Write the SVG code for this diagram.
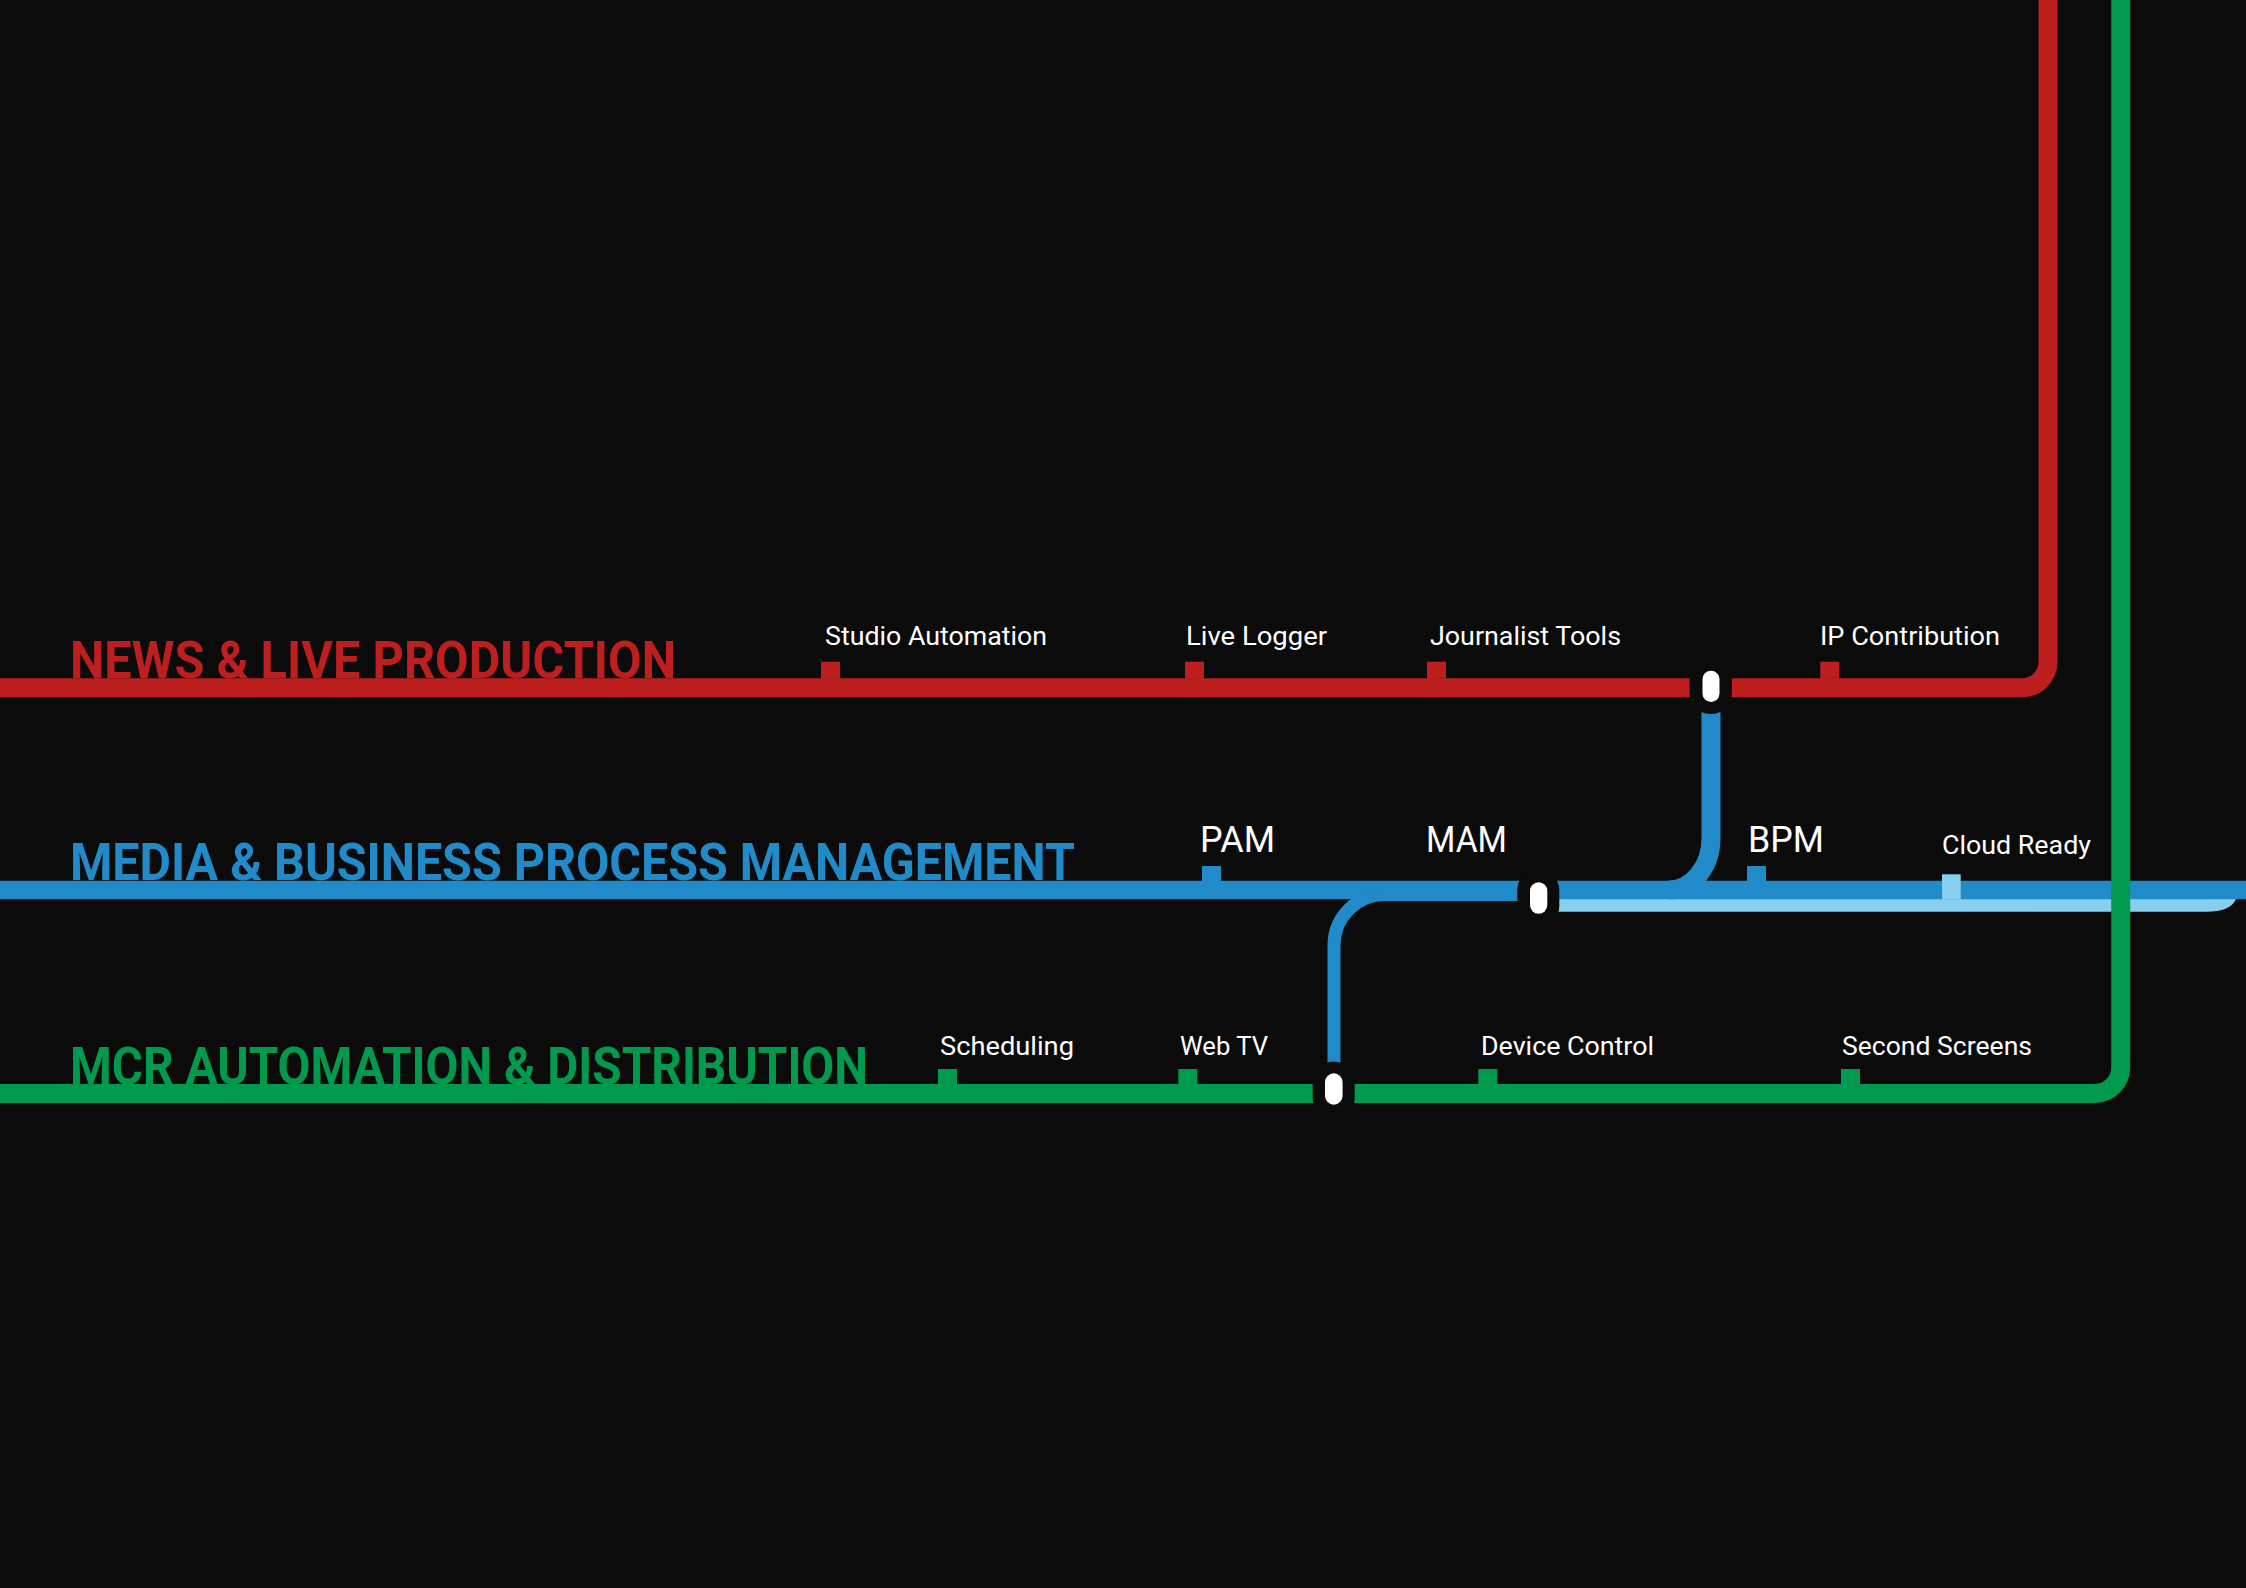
<svg xmlns="http://www.w3.org/2000/svg" width="2246" height="1588" viewBox="0 0 2246 1588">
<style>
.ln{fill:none;stroke-linejoin:round}
.r{stroke:#bd1e1e}.b{stroke:#218bc9}.g{stroke:#00994d}
.fr{fill:#bd1e1e}.fb{fill:#218bc9}.fg{fill:#00994d}.fl{fill:#88cfef}
text{font-family:"Roboto","Liberation Sans",sans-serif}
.t{font-size:51px;font-weight:700}
.s{font-size:26px;font-weight:450;fill:#fff}
.m{font-size:36px;font-weight:450;fill:#fff}
.mask{fill:#0b0b0b}.pill{fill:#fff}
</style>
<rect width="2246" height="1588" fill="#0b0b0b"/>
<g id="connectors">
<path class="fl" d="M1540,899 H2236 C2232,908 2222,911.7 2207,911.7 H1540 Z"/>
<path id="line-media" class="ln b" stroke-width="18.7" d="M0,890 H2246"/>
<path id="branch-news" class="ln b" stroke-width="19" d="M1711,700 V838 A42,52 0 0 1 1669,890"/>
<path id="branch-mcr" class="ln b" stroke-width="13" d="M1334,1075 V945 A51,50.5 0 0 1 1385,894.5 H1530"/>
<path id="line-news" class="ln r" stroke-width="19" d="M0,687.8 H2022 A26,26 0 0 0 2048,661.8 V0"/>
<path id="line-mcr" class="ln g" stroke-width="19" d="M0,1093.5 H2095 A26,26 0 0 0 2120.7,1067.5 V0"/>
</g>
<g id="title-news"><text class="t fr" x="70" y="677.7" textLength="606" lengthAdjust="spacingAndGlyphs">NEWS &amp; LIVE PRODUCTION</text></g>
<g id="title-media"><text class="t fb" x="70" y="879.5" textLength="1005" lengthAdjust="spacingAndGlyphs">MEDIA &amp; BUSINESS PROCESS MANAGEMENT</text></g>
<g id="title-mcr"><text class="t fg" x="70" y="1083.5" textLength="798" lengthAdjust="spacingAndGlyphs">MCR AUTOMATION &amp; DISTRIBUTION</text></g>
<g id="studio-automation"><rect class="fr" x="821" y="661.7" width="19" height="17"/><text class="s" x="825" y="645" textLength="222" lengthAdjust="spacingAndGlyphs">Studio Automation</text></g>
<g id="live-logger"><rect class="fr" x="1185" y="661.7" width="19" height="17"/><text class="s" x="1186" y="645" textLength="141" lengthAdjust="spacingAndGlyphs">Live Logger</text></g>
<g id="journalist-tools"><rect class="fr" x="1427" y="661.7" width="19" height="17"/><text class="s" x="1430" y="645" textLength="191" lengthAdjust="spacingAndGlyphs">Journalist Tools</text></g>
<g id="ip-contribution"><rect class="fr" x="1820.3" y="661.7" width="19" height="17"/><text class="s" x="1820" y="645" textLength="180" lengthAdjust="spacingAndGlyphs">IP Contribution</text></g>
<g id="pam"><rect class="fb" x="1202" y="866" width="19" height="16"/><text class="m" x="1200" y="852" textLength="75" lengthAdjust="spacingAndGlyphs">PAM</text></g>
<g id="mam"><text class="m" x="1426" y="852" textLength="81" lengthAdjust="spacingAndGlyphs">MAM</text></g>
<g id="bpm"><rect class="fb" x="1747" y="866" width="19" height="16"/><text class="m" x="1748" y="852" textLength="76" lengthAdjust="spacingAndGlyphs">BPM</text></g>
<g id="cloud-ready"><rect class="fl" x="1942" y="874.3" width="18.7" height="25"/><text class="s" x="1942" y="854" textLength="149" lengthAdjust="spacingAndGlyphs">Cloud Ready</text></g>
<g id="scheduling"><rect class="fg" x="938" y="1069" width="19" height="16"/><text class="s" x="940" y="1055" textLength="134" lengthAdjust="spacingAndGlyphs">Scheduling</text></g>
<g id="web-tv"><rect class="fg" x="1178.3" y="1069" width="19" height="16"/><text class="s" x="1180" y="1055" textLength="88" lengthAdjust="spacingAndGlyphs">Web TV</text></g>
<g id="device-control"><rect class="fg" x="1478.3" y="1069" width="19" height="16"/><text class="s" x="1481" y="1055" textLength="173" lengthAdjust="spacingAndGlyphs">Device Control</text></g>
<g id="second-screens"><rect class="fg" x="1841" y="1069" width="19" height="16"/><text class="s" x="1842" y="1055" textLength="190" lengthAdjust="spacingAndGlyphs">Second Screens</text></g>
<g id="junction-news"><rect class="mask" x="1689.5" y="657" width="42.5" height="57" rx="21.2"/><rect class="pill" x="1702.5" y="670.7" width="17" height="31.4" rx="8.5"/></g>
<g id="junction-media"><rect class="mask" x="1517.3" y="869" width="42" height="58" rx="21"/><rect class="pill" x="1530" y="882.3" width="17.3" height="31.4" rx="8.6"/></g>
<g id="junction-mcr"><rect class="mask" x="1312.7" y="1061.5" width="42" height="57" rx="21"/><rect class="pill" x="1325" y="1073.3" width="17.6" height="31.4" rx="8.8"/></g>
</svg>
